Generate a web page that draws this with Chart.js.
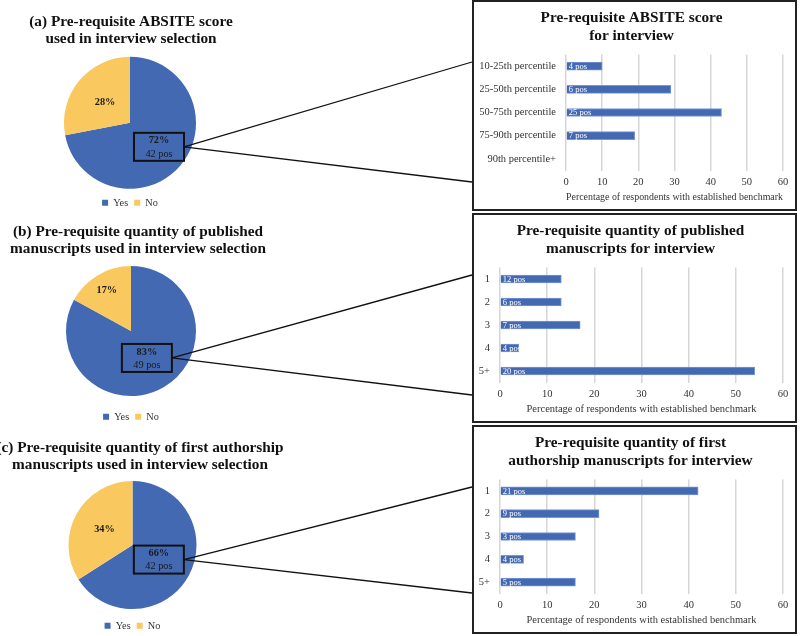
<!DOCTYPE html>
<html>
<head>
<meta charset="utf-8">
<script src="https://cdn.jsdelivr.net/npm/chart.js@4"></script>
<style>
  body { margin: 0; width: 800px; height: 636px; overflow: hidden; background: #fff; position: relative; }
  canvas { display: block; }
  .pie { position: absolute; left: 0; }
  .panel { position: absolute; left: 472px; width: 325px; border: 2px solid #222; box-sizing: border-box; background: #fff; }
</style>
</head>
<body>
<canvas id="pieA" class="pie" width="474" height="218" style="top:0px"></canvas>
<canvas id="pieB" class="pie" width="474" height="220" style="top:212px"></canvas>
<canvas id="pieC" class="pie" width="474" height="216" style="top:425px"></canvas>
<div class="panel" style="top:0px;height:211px"><canvas id="barA" width="321" height="207"></canvas></div>
<div class="panel" style="top:213px;height:210px"><canvas id="barB" width="321" height="206"></canvas></div>
<div class="panel" style="top:425px;height:209px"><canvas id="barC" width="321" height="205"></canvas></div>
<script>
const BLUE = '#4469b3';
const YELLOW = '#f9c85e';
const SERIF = "'Liberation Serif', 'Times New Roman', serif";

// pie shares (Yes / No) and number of programs behind the Yes share
const pieLabels = ['Yes', 'No'];
const absiteShare = [72, 28];
const publishedShare = [83, 17];
const firstAuthorShare = [66, 34];
const yesPos = [42, 49, 42];

// bar charts: % of respondents with an established benchmark
const absiteLabels = ['10-25th percentile', '25-50th percentile', '50-75th percentile', '75-90th percentile', '90th percentile+'];
const absiteValues = [10, 29, 43, 19, 0];
const absitePos = [4, 6, 25, 7, null];

const countLabels = ['1', '2', '3', '4', '5+'];
const publishedValues = [13, 13, 17, 4, 54];
const publishedPos = [12, 6, 7, 4, 20];
const firstAuthorValues = [42, 21, 16, 5, 16];
const firstAuthorPos = [21, 9, 3, 4, 5];

const axisTicks = [0, 10, 20, 30, 40, 50, 60];
const axisTitle = 'Percentage of respondents with established benchmark';

// white "n pos" text at the start of each bar
const barPosPlugin = {
  id: 'barPos',
  afterDatasetsDraw(chart, args, o) {
    const ctx = chart.ctx;
    ctx.save();
    ctx.font = `8.5px ${SERIF}`;
    ctx.fillStyle = '#fff';
    ctx.textAlign = 'left';
    ctx.textBaseline = 'middle';
    chart.getDatasetMeta(0).data.forEach((bar, i) => {
      if (o.pos[i] == null) return;
      ctx.fillText(o.pos[i] + ' pos', bar.base + 2, bar.y + 0.5);
    });
    ctx.restore();
  }
};

// pie heading (wider than the pie, so centred on its own), slice labels,
// the boxed Yes label and the two lines out to the bar panel
const pieCalloutPlugin = {
  id: 'pieCallout',
  afterDraw(chart, args, o) {
    const ctx = chart.ctx;
    const arcs = chart.getDatasetMeta(0).data;
    const vals = chart.data.datasets[0].data;
    const at = (arc, f) => {
      const a = (arc.startAngle + arc.endAngle) / 2;
      return [arc.x + Math.cos(a) * arc.outerRadius * f, arc.y + Math.sin(a) * arc.outerRadius * f];
    };
    ctx.save();
    ctx.textAlign = 'center';
    ctx.textBaseline = 'middle';

    ctx.fillStyle = '#111';
    ctx.font = `bold 15.3px ${SERIF}`;
    o.title.forEach((line, i) => ctx.fillText(line, o.tx, o.ty + i * 17.5));

    ctx.fillStyle = '#1a1a1a';
    ctx.font = `bold 10.3px ${SERIF}`;
    const [nx, ny] = at(arcs[1], o.noAt);
    ctx.fillText(vals[1] + '%', nx, ny);

    const [yx, yy] = at(arcs[0], o.yesAt);
    const w = 50, h = 28;
    ctx.strokeStyle = '#111';
    ctx.lineWidth = 2;
    ctx.strokeRect(yx - w / 2, yy - h / 2, w, h);
    ctx.fillText(vals[0] + '%', yx, yy - 6);
    ctx.font = `10.3px ${SERIF}`;
    ctx.fillText(o.pos + ' pos', yx, yy + 7);

    ctx.lineWidth = 1.3;
    ctx.beginPath();
    o.to.forEach(ty => {
      ctx.moveTo(yx + w / 2, yy);
      ctx.lineTo(chart.width - 2, ty);
    });
    ctx.stroke();
    ctx.restore();
  }
};

function pieChart(id, values, titleLines, o) {
  const el = document.getElementById(id);
  return new Chart(el, {
    type: 'pie',
    data: {
      labels: pieLabels,
      datasets: [{ data: values, backgroundColor: [BLUE, YELLOW], borderWidth: 0, radius: o.r }]
    },
    options: {
      responsive: false,
      animation: false,
      layout: { padding: { left: 0, right: el.width - 2 * o.cx, top: o.top, bottom: 0 } },
      plugins: {
        tooltip: { enabled: false },
        legend: {
          position: 'bottom',
          labels: { boxWidth: 6, boxHeight: 6, padding: 6, color: '#333', font: { family: SERIF, size: 10.3 } }
        },
        pieCallout: { title: titleLines, tx: o.tx, ty: o.ty, pos: o.pos, noAt: o.noAt, yesAt: o.yesAt, to: o.to }
      }
    },
    plugins: [pieCalloutPlugin]
  });
}

// padLeft + yWidth is where the value axis starts (labels are clipped to the y scale box)
function barChart(id, labels, values, pos, titleLines, padLeft, yWidth) {
  const font = { family: SERIF, size: 10.5 };
  return new Chart(document.getElementById(id), {
    type: 'bar',
    data: {
      labels,
      datasets: [{ data: values, backgroundColor: BLUE, borderColor: '#7a96d4', borderWidth: 1, barThickness: 8 }]
    },
    options: {
      indexAxis: 'y',
      responsive: false,
      animation: false,
      layout: { padding: { left: padLeft, right: 12, top: 0, bottom: 0 } },
      plugins: {
        legend: { display: false },
        tooltip: { enabled: false },
        title: {
          display: true, text: titleLines, color: '#111',
          font: { family: SERIF, size: 15.3, weight: 'bold', lineHeight: '18px' },
          padding: { top: 7, bottom: 9.5 }
        },
        barPos: { pos }
      },
      scales: {
        x: {
          min: axisTicks[0], max: axisTicks[axisTicks.length - 1],
          ticks: { stepSize: axisTicks[1] - axisTicks[0], color: '#333', font, padding: 5.5 },
          grid: { color: '#d6d6d6', lineWidth: 1.5, drawTicks: false },
          border: { display: false },
          title: { display: true, text: axisTitle, color: '#333', font, padding: { top: 0, bottom: 5 } },
          afterFit: s => { s.height = 38.5; }
        },
        y: {
          ticks: { color: '#333', font, padding: 10 },
          grid: { display: false, drawTicks: false },
          border: { display: false },
          afterFit: s => { s.width = yWidth; }
        }
      }
    },
    plugins: [barPosPlugin]
  });
}

pieChart('pieA', absiteShare, ['(a) Pre-requisite ABSITE score', 'used in interview selection'],
  { cx: 130, r: 66, top: 54, tx: 131, ty: 22, pos: yesPos[0], noAt: 0.49, yesAt: 0.57, to: [62, 182] });
pieChart('pieB', publishedShare, ['(b) Pre-requisite quantity of published', 'manuscripts used in interview selection'],
  { cx: 131, r: 65, top: 44.5, tx: 138, ty: 19.7, pos: yesPos[1], noAt: 0.73, yesAt: 0.48, to: [63, 183] });
pieChart('pieC', firstAuthorShare, ['(c) Pre-requisite quantity of first authorship', 'manuscripts used in interview selection'],
  { cx: 132.5, r: 64, top: 50.5, tx: 140, ty: 23, pos: yesPos[2], noAt: 0.5, yesAt: 0.47, to: [62, 168] });

barChart('barA', absiteLabels, absiteValues, absitePos, ['Pre-requisite ABSITE score', 'for interview'], 6, 86);
barChart('barB', countLabels, publishedValues, publishedPos, ['Pre-requisite quantity of published', 'manuscripts for interview'], 4, 22);
barChart('barC', countLabels, firstAuthorValues, firstAuthorPos, ['Pre-requisite quantity of first', 'authorship manuscripts for interview'], 4, 22);
</script>
</body>
</html>
